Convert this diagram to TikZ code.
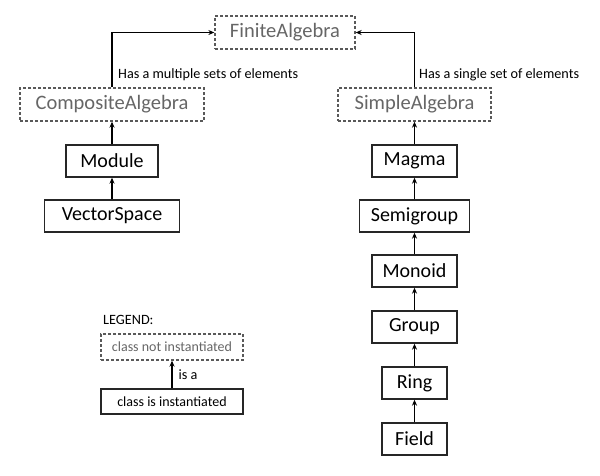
\documentclass[tikz,border=0pt]{standalone}
\usepackage{fontspec}
\setmainfont{Carlito}
\usetikzlibrary{arrows.meta}
\begin{document}
\begin{tikzpicture}[x=1pt,y=-1pt,
 cls/.style={draw=black!85, line width=1.3pt, minimum height=32pt, inner sep=0pt, font=\fontsize{20}{23}\selectfont},
 abs/.style={draw=black!65, dash pattern=on 3pt off 2pt, line width=1.3pt, minimum height=33pt, inner sep=0pt, text=black!60, font=\fontsize{20.5}{23}\selectfont},
 isa/.style={-{Stealth[length=6pt,width=5pt]}, line width=1.3pt},
 lbl/.style={font=\fontsize{14.2}{16}\selectfont, inner sep=0pt},
 small/.style={font=\fontsize{14}{16}\selectfont}]
\useasboundingbox (0,0) rectangle (600,475);
\node[abs, minimum width=140pt] (fin) at (285,32.5) {FiniteAlgebra};
\node[abs, minimum width=184pt] (comp) at (112,104.5) {CompositeAlgebra};
\node[abs, minimum width=153pt] (simp) at (414.5,104.5) {SimpleAlgebra};
\node[cls, minimum width=92pt] (mod) at (112,161) {Module};
\node[cls, minimum width=135pt] (vec) at (112,216) {VectorSpace};
\node[cls, minimum width=85pt] (magma) at (414.5,161) {Magma};
\node[cls, minimum width=110pt] (semi) at (414.5,216) {Semigroup};
\node[cls, minimum width=85pt] (mono) at (414.5,271) {Monoid};
\node[cls, minimum width=85pt] (group) at (414.5,327) {Group};
\node[cls, minimum width=65pt] (ring) at (414.5,383) {Ring};
\node[cls, minimum width=65pt] (field) at (414.5,439) {Field};
\node[lbl, anchor=west] (leg) at (103,320) {LEGEND:};
\node[abs, small, minimum width=142pt, minimum height=26pt] (lna) at (172,347) {class not instantiated};
\node[cls, small, text=black, minimum width=142pt, minimum height=25pt] (lin) at (172,401.5) {class is instantiated};
\draw[isa] (comp.north) |- (fin.west);
\draw[isa] (simp.north) |- (fin.east);
\node[lbl, anchor=west] (lab1) at (118,75) {Has a multiple sets of elements};
\node[lbl, anchor=west] (lab2) at (419,75) {Has a single set of elements};
\draw[isa] (mod) -- (comp);
\draw[isa] (vec) -- (mod);
\draw[isa] (magma) -- (simp);
\draw[isa] (semi) -- (magma);
\draw[isa] (mono) -- (semi);
\draw[isa] (group) -- (mono);
\draw[isa] (ring) -- (group);
\draw[isa] (field) -- (ring);
\draw[isa] (lin) -- node[lbl, right=6pt] {is a} (lna);
\end{tikzpicture}
\end{document}
